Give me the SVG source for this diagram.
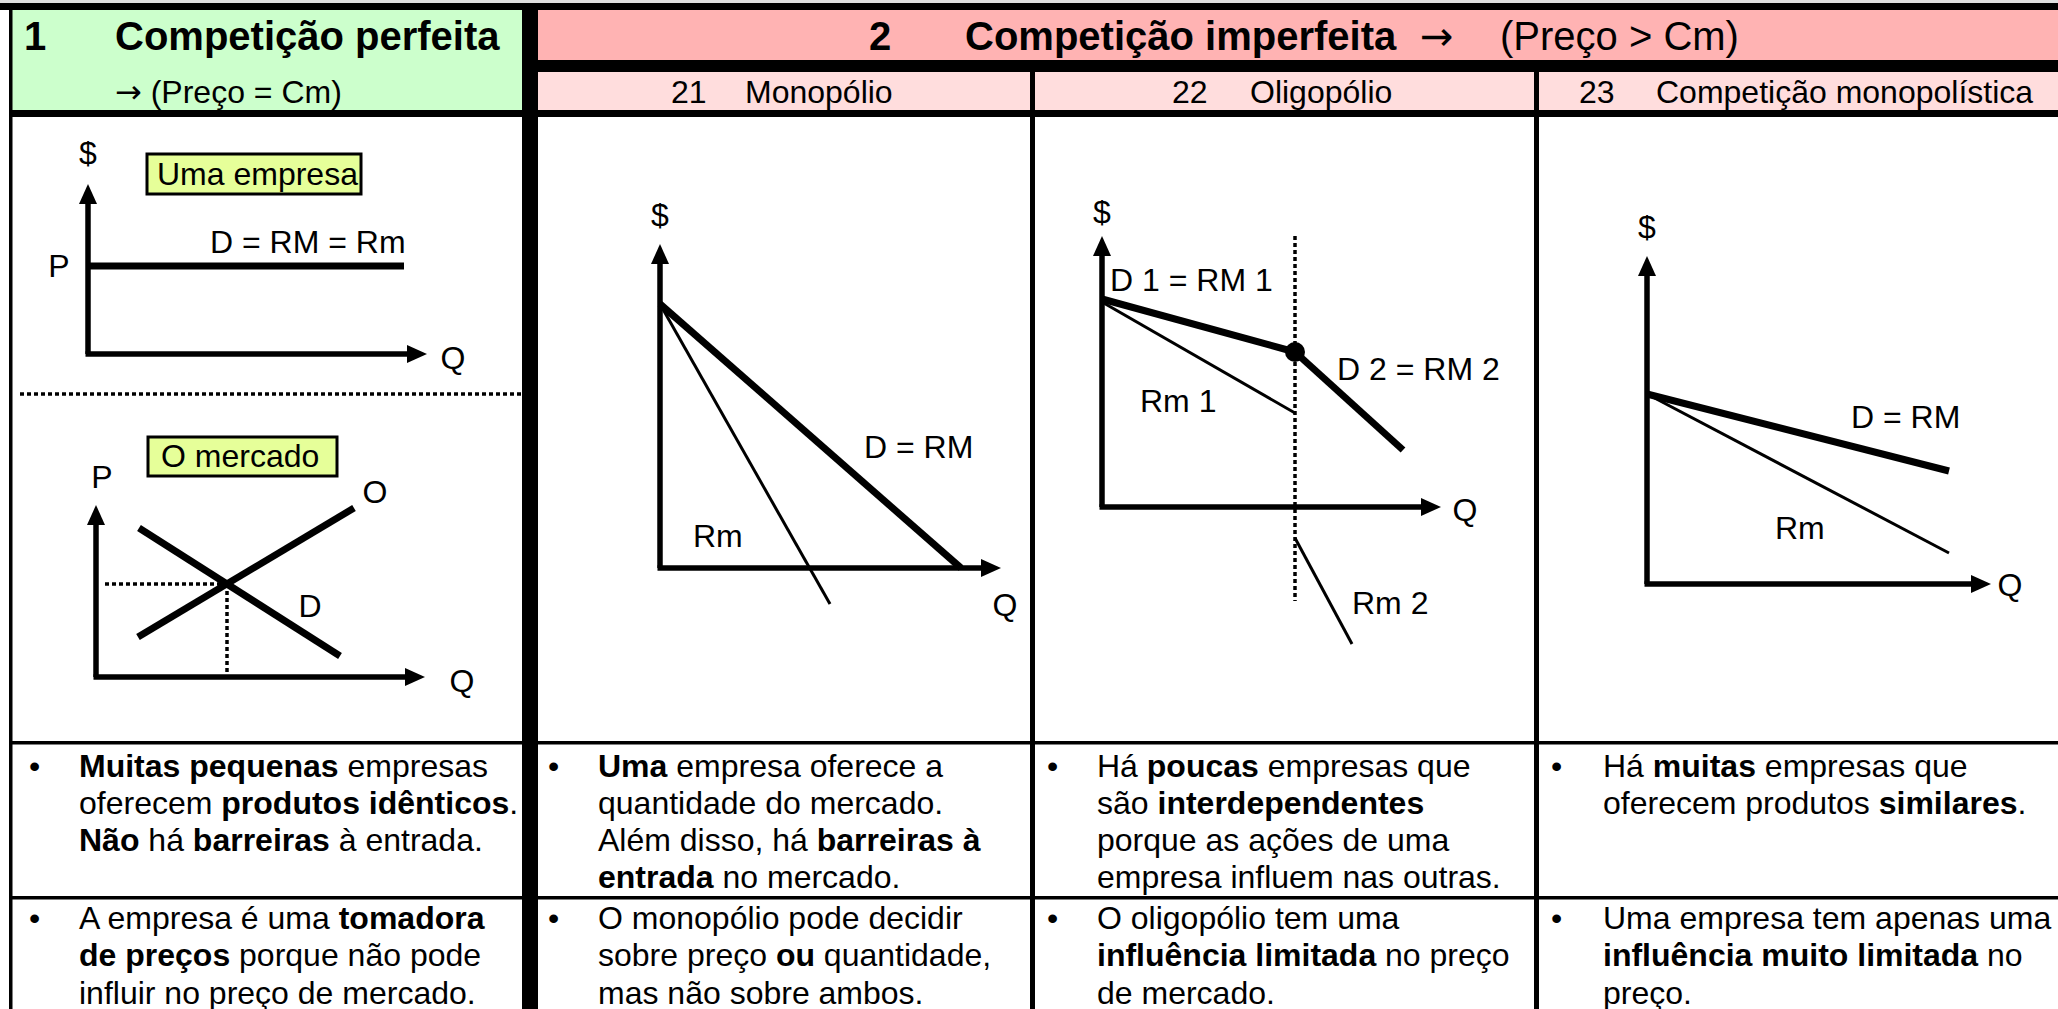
<svg xmlns="http://www.w3.org/2000/svg" width="2058" height="1009" viewBox="0 0 2058 1009">
<style>
text{font-family:"Liberation Sans",Arial,sans-serif;fill:#000}
.h1{font-size:40px}
.t{font-size:32px}
.b{font-weight:bold}
.sym{font-family:"DejaVu Sans",sans-serif}
.ax{stroke:#000;stroke-width:5.5;fill:none}
.thick{stroke:#000;stroke-width:7;fill:none}
.thin{stroke:#000;stroke-width:3;fill:none}
.dot{stroke:#000;stroke-width:3.5;stroke-dasharray:4 3;fill:none}
.box{fill:#e6ff99;stroke:#000;stroke-width:3}
.mid{text-anchor:middle}
</style>
<defs>
<marker id="arr" viewBox="0 0 20 18" refX="0" refY="9" markerWidth="20" markerHeight="18" markerUnits="userSpaceOnUse" orient="auto">
<path d="M0,0 L20,9 L0,18 z" fill="#000"/>
</marker>
</defs>
<rect x="0" y="0" width="2058" height="1009" fill="#fff"/>
<g id="grid">
<rect x="0" y="0" width="2058" height="3" fill="#e0e0e0"/>
<rect x="10" y="10" width="512" height="100" fill="#ccffcc"/>
<rect x="538" y="10" width="1520" height="50" fill="#ffb3b3"/>
<rect x="538" y="72" width="1520" height="38" fill="#ffdddd"/>
<rect x="0" y="3" width="2058" height="7" fill="#000"/>
<rect x="538" y="60" width="1520" height="12" fill="#000"/>
<rect x="10" y="110" width="2048" height="7" fill="#000"/>
<rect x="10" y="741" width="2048" height="3.5" fill="#000"/>
<rect x="10" y="896" width="2048" height="3.5" fill="#000"/>
<rect x="9" y="3" width="3.5" height="1006" fill="#000"/>
<rect x="522" y="10" width="16" height="999" fill="#000"/>
<rect x="1030" y="60" width="5" height="949" fill="#000"/>
<rect x="1534" y="60" width="5" height="949" fill="#000"/>
</g>
<g id="header">
<text class="h1 b" x="24" y="50">1</text>
<text class="h1 b" x="115" y="50">Competição perfeita</text>
<text class="h1 b" x="869" y="50">2</text>
<text class="h1 b" x="965" y="50">Competição imperfeita</text>
<text class="h1 sym" x="1420" y="50">→</text>
<text class="h1" x="1500" y="50">(Preço &gt; Cm)</text>
<text class="t" x="115" y="103"><tspan class="sym">→</tspan> (Preço = Cm)</text>
<text class="t" x="671" y="103">21</text>
<text class="t" x="745" y="103">Monopólio</text>
<text class="t" x="1172" y="103">22</text>
<text class="t" x="1250" y="103">Oligopólio</text>
<text class="t" x="1579" y="103">23</text>
<text class="t" x="1656" y="103">Competição monopolística</text>
</g>
<g id="chart-firm">
<rect class="box" x="147" y="154" width="214" height="40"/>
<text class="t" x="157" y="185">Uma empresa</text>
<line class="ax" x1="88" y1="354" x2="88" y2="204" marker-end="url(#arr)"/>
<line class="ax" x1="85.5" y1="354" x2="407" y2="354" marker-end="url(#arr)"/>
<line class="thick" x1="88" y1="266" x2="404" y2="266"/>
<text class="t mid" x="88" y="164">$</text>
<text class="t mid" x="59" y="277">P</text>
<text class="t mid" x="453" y="369">Q</text>
<text class="t" x="210" y="253">D = RM = Rm</text>
</g>
<line id="separator" class="dot" x1="20" y1="394" x2="522" y2="394"/>
<g id="chart-market">
<rect class="box" x="148" y="437" width="189" height="39"/>
<text class="t" x="161" y="467">O mercado</text>
<line class="ax" x1="96" y1="677" x2="96" y2="525" marker-end="url(#arr)"/>
<line class="ax" x1="93.5" y1="677" x2="405" y2="677" marker-end="url(#arr)"/>
<line class="dot" x1="105" y1="584" x2="227" y2="584"/>
<line class="dot" x1="227" y1="584" x2="227" y2="672"/>
<line class="thick" x1="138" y1="637" x2="354" y2="508"/>
<line class="thick" x1="139" y1="528" x2="340" y2="656"/>
<text class="t mid" x="102" y="488">P</text>
<text class="t mid" x="462" y="692">Q</text>
<text class="t mid" x="375" y="503">O</text>
<text class="t mid" x="310" y="617">D</text>
</g>
<g id="chart-monopolio">
<line class="ax" x1="660" y1="568" x2="660" y2="264" marker-end="url(#arr)"/>
<line class="ax" x1="657.5" y1="568" x2="981" y2="568" marker-end="url(#arr)"/>
<line class="thick" x1="660" y1="304" x2="961" y2="568"/>
<line class="thin" x1="660" y1="304" x2="830" y2="604"/>
<text class="t mid" x="660" y="226">$</text>
<text class="t mid" x="1005" y="616">Q</text>
<text class="t" x="864" y="458">D = RM</text>
<text class="t" x="693" y="547">Rm</text>
</g>
<g id="chart-oligopolio">
<line class="dot" x1="1295" y1="236" x2="1295" y2="601"/>
<line class="ax" x1="1102" y1="507" x2="1102" y2="256" marker-end="url(#arr)"/>
<line class="ax" x1="1099.5" y1="507" x2="1421" y2="507" marker-end="url(#arr)"/>
<line class="thick" x1="1102" y1="299" x2="1295" y2="352"/>
<line class="thick" x1="1295" y1="352" x2="1403" y2="450"/>
<circle cx="1295" cy="352" r="10" fill="#000"/>
<line class="thin" x1="1102" y1="302" x2="1295" y2="413"/>
<line class="thin" x1="1295" y1="538" x2="1352" y2="644"/>
<text class="t mid" x="1102" y="223">$</text>
<text class="t mid" x="1465" y="521">Q</text>
<text class="t" x="1110" y="291">D 1 = RM 1</text>
<text class="t" x="1337" y="380">D 2 = RM 2</text>
<text class="t" x="1140" y="412">Rm 1</text>
<text class="t" x="1352" y="614">Rm 2</text>
</g>
<g id="chart-competicao-monopolistica">
<line class="ax" x1="1647" y1="584" x2="1647" y2="276" marker-end="url(#arr)"/>
<line class="ax" x1="1644.5" y1="584" x2="1971" y2="584" marker-end="url(#arr)"/>
<line class="thick" x1="1647" y1="394" x2="1949" y2="471"/>
<line class="thin" x1="1647" y1="394" x2="1949" y2="553"/>
<text class="t mid" x="1647" y="238">$</text>
<text class="t mid" x="2010" y="596">Q</text>
<text class="t" x="1851" y="428">D = RM</text>
<text class="t" x="1775" y="539">Rm</text>
</g>
<g id="text-perfeita">
<text class="t" x="29" y="777">•</text>
<text class="t" x="79" y="777"><tspan class="b">Muitas pequenas</tspan> empresas</text>
<text class="t" x="79" y="814">oferecem <tspan class="b">produtos idênticos</tspan>.</text>
<text class="t" x="79" y="851"><tspan class="b">Não</tspan> há <tspan class="b">barreiras</tspan> à entrada.</text>
<text class="t" x="29" y="929">•</text>
<text class="t" x="79" y="929">A empresa é uma <tspan class="b">tomadora</tspan></text>
<text class="t" x="79" y="966"><tspan class="b">de preços</tspan> porque não pode</text>
<text class="t" x="79" y="1004">influir no preço de mercado.</text>
</g>
<g id="text-monopolio">
<text class="t" x="548" y="777">•</text>
<text class="t" x="598" y="777"><tspan class="b">Uma</tspan> empresa oferece a</text>
<text class="t" x="598" y="814">quantidade do mercado.</text>
<text class="t" x="598" y="851">Além disso, há <tspan class="b">barreiras à</tspan></text>
<text class="t" x="598" y="888"><tspan class="b">entrada</tspan> no mercado.</text>
<text class="t" x="548" y="929">•</text>
<text class="t" x="598" y="929">O monopólio pode decidir</text>
<text class="t" x="598" y="966">sobre preço <tspan class="b">ou</tspan> quantidade,</text>
<text class="t" x="598" y="1004">mas não sobre ambos.</text>
</g>
<g id="text-oligopolio">
<text class="t" x="1047" y="777">•</text>
<text class="t" x="1097" y="777">Há <tspan class="b">poucas</tspan> empresas que</text>
<text class="t" x="1097" y="814">são <tspan class="b">interdependentes</tspan></text>
<text class="t" x="1097" y="851">porque as ações de uma</text>
<text class="t" x="1097" y="888">empresa influem nas outras.</text>
<text class="t" x="1047" y="929">•</text>
<text class="t" x="1097" y="929">O oligopólio tem uma</text>
<text class="t" x="1097" y="966"><tspan class="b">influência limitada</tspan> no preço</text>
<text class="t" x="1097" y="1004">de mercado.</text>
</g>
<g id="text-competicao-monopolistica">
<text class="t" x="1551" y="777">•</text>
<text class="t" x="1603" y="777">Há <tspan class="b">muitas</tspan> empresas que</text>
<text class="t" x="1603" y="814">oferecem produtos <tspan class="b">similares</tspan>.</text>
<text class="t" x="1551" y="929">•</text>
<text class="t" x="1603" y="929">Uma empresa tem apenas uma</text>
<text class="t" x="1603" y="966"><tspan class="b">influência muito limitada</tspan> no</text>
<text class="t" x="1603" y="1004">preço.</text>
</g>
</svg>
